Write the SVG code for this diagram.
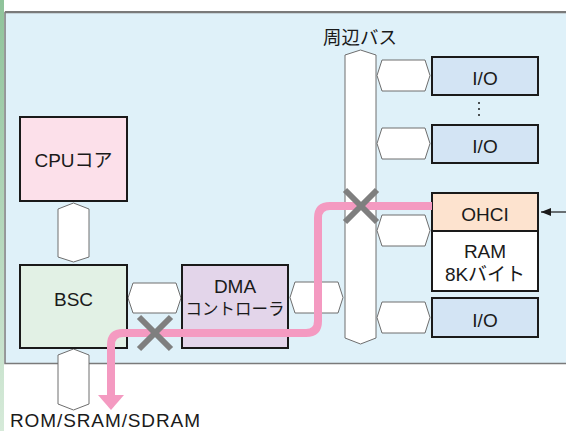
<svg xmlns="http://www.w3.org/2000/svg" width="566" height="431" viewBox="0 0 566 431">
<style>
text{font-family:"Liberation Sans","Noto Sans CJK JP",sans-serif;font-size:19px;fill:#1a1a1a;text-anchor:middle}
.box{stroke:#1a1a1a;stroke-width:2}
.hex{fill:#fff;stroke:#6e6e6e;stroke-width:1}
.x{stroke:#7f7f7f;stroke-width:6;fill:none}
</style>
<defs>
<linearGradient id="g" x1="0" y1="0" x2="0" y2="1">
<stop offset="0" stop-color="#8fc39a"/>
<stop offset="1" stop-color="#d6ead9"/>
</linearGradient>
<marker id="ah" markerWidth="10" markerHeight="8" refX="10" refY="4" orient="auto" markerUnits="userSpaceOnUse">
<path d="M0,0 L10,4 L0,8 Z" fill="#1a1a1a"/>
</marker>
</defs>
<rect x="0" y="0" width="4" height="431" fill="url(#g)"/>
<rect x="5" y="12.5" width="562" height="351" fill="#dff1f9" stroke="#7a7a7a" stroke-width="1.5"/>
<line x1="5" y1="12" x2="566" y2="12" stroke="#7a7a7a" stroke-width="2"/>

<g id="connectors">
<polygon class="hex" points="58,209 73.5,203 89,209 89,257 73.5,262 58,257"/>
<polygon class="hex" points="58,355 73.5,349 89,355 89,404 73.5,410 58,404"/>
<polygon class="hex" points="128,298 133,283 176,283 181,298 176,313 133,313"/>
<polygon class="hex" points="290,297.5 295,282 338,282 343,297.5 338,313 295,313"/>
<polygon class="hex" points="377,75.5 382,60 425,60 430,75.5 425,91 382,91"/>
<polygon class="hex" points="377,143.5 382,128 425,128 430,143.5 425,159 382,159"/>
<polygon class="hex" points="377,230.5 382,215 425,215 430,230.5 425,246 382,246"/>
<polygon class="hex" points="377,317.5 382,302 425,302 430,317.5 425,333 382,333"/>
<line x1="566" y1="212" x2="541" y2="212" stroke="#1a1a1a" stroke-width="1.2" marker-end="url(#ah)"/>
</g>

<g id="bus">
<polygon class="hex" points="345,55 360.5,50 376,55 376,338 360.5,344 345,338" stroke="#7a7a7a"/>
<text x="360" y="44" style="font-size:18.5px">周辺バス</text>
</g>

<g id="cpu"><rect class="box" x="20" y="117" width="107" height="84" fill="#fce0ea"/><text x="73.5" y="167">CPUコア</text></g>
<g id="bsc"><rect class="box" x="20" y="265" width="107" height="83" fill="#e2f1e5"/><text x="73.5" y="306">BSC</text></g>
<g id="dma"><rect class="box" x="182" y="265" width="106" height="83" fill="#e3d5ea"/><text x="235" y="293">DMA</text><text x="235" y="315" style="font-size:16.5px">コントローラ</text></g>
<g id="io1"><rect class="box" x="432" y="57" width="106" height="38" fill="#d3e4f4"/><text x="485" y="85">I/O</text></g>
<g id="dots"><circle cx="479" cy="103" r="1" fill="#1a1a1a"/><circle cx="479" cy="109" r="1" fill="#1a1a1a"/><circle cx="479" cy="115" r="1" fill="#1a1a1a"/></g>
<g id="io2"><rect class="box" x="432" y="125" width="106" height="38" fill="#d3e4f4"/><text x="485" y="153">I/O</text></g>
<g id="ohci"><rect class="box" x="432" y="193" width="106" height="38" fill="#fde3cf"/><text x="485" y="221">OHCI</text></g>
<g id="ram"><rect class="box" x="432" y="231" width="106" height="60" fill="#ffffff"/><text x="485" y="258">RAM</text><text x="485" y="281">8Kバイト</text></g>
<g id="io3"><rect class="box" x="432" y="298" width="106" height="39" fill="#d3e4f4"/><text x="485" y="327">I/O</text></g>

<g id="path">
<path d="M432,206 L330,206 Q318,206 318,218 L318,321 Q318,333 306,333 L123,333 Q111,333 111,345 L111,396" fill="none" stroke="#f49ac1" stroke-width="8"/>
<polygon points="98,395 124,395 111,410" fill="#f49ac1"/>
<path class="x" d="M345,190 L377,222 M377,190 L345,222"/>
<path class="x" d="M139,317 L171,349 M171,317 L139,349"/>
</g>

<text x="10" y="427" textLength="190" style="text-anchor:start">ROM/SRAM/SDRAM</text>
</svg>
